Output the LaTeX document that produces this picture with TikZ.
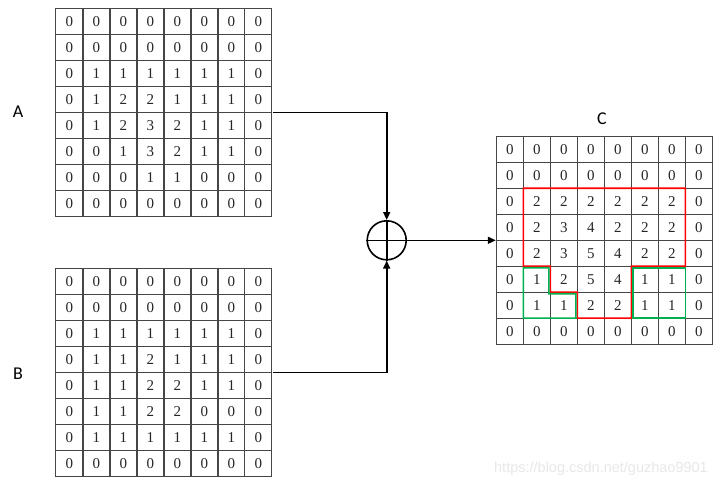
\documentclass[tikz,border=0pt]{standalone}
\usepackage{fontspec}
\setmainfont{Liberation Serif}
\newfontfamily\labelfont{Carlito}
\newfontfamily\markfont{Liberation Sans}
\usetikzlibrary{matrix,arrows.meta,positioning}
\definecolor{gridgray}{RGB}{70,70,70}
\definecolor{zonered}{RGB}{255,0,0}
\definecolor{zonegreen}{RGB}{0,176,80}
\tikzset{
  cellbox/.style={draw=gridgray,line width=1.2pt,minimum width=27pt,minimum height=25.9pt,
                  inner sep=0pt,outer sep=0pt,text=black!85,font=\fontsize{15}{15}\selectfont},
  numgrid/.style={matrix of nodes,nodes={cellbox},column sep=-1.2pt,row sep=-1.2pt,
                  inner sep=0pt,outer sep=0pt},
  namelabel/.style={font=\labelfont\fontsize{18}{18}\selectfont},
  sumnode/.style={circle,draw,line width=1.6pt,minimum size=39pt,inner sep=0pt},
  arr/.style={-{Triangle[length=8pt,width=7pt]},line width=1.6pt},
  redzone/.style={draw=zonered,line width=1.6pt},
  greenzone/.style={draw=zonegreen,line width=1.6pt}
}

\begin{document}
\begin{tikzpicture}[x=1pt,y=-1pt]
  \fill[white] (0,0) rectangle (726,488);
  \useasboundingbox (0,0) rectangle (726,488);

  % input grids
  \matrix[numgrid] (A) at (163.9,112.5) {
    0 & 0 & 0 & 0 & 0 & 0 & 0 & 0 \\
    0 & 0 & 0 & 0 & 0 & 0 & 0 & 0 \\
    0 & 1 & 1 & 1 & 1 & 1 & 1 & 0 \\
    0 & 1 & 2 & 2 & 1 & 1 & 1 & 0 \\
    0 & 1 & 2 & 3 & 2 & 1 & 1 & 0 \\
    0 & 0 & 1 & 3 & 2 & 1 & 1 & 0 \\
    0 & 0 & 0 & 1 & 1 & 0 & 0 & 0 \\
    0 & 0 & 0 & 0 & 0 & 0 & 0 & 0 \\
  };
  \matrix[numgrid] (B) at (163.9,372.5) {
    0 & 0 & 0 & 0 & 0 & 0 & 0 & 0 \\
    0 & 0 & 0 & 0 & 0 & 0 & 0 & 0 \\
    0 & 1 & 1 & 1 & 1 & 1 & 1 & 0 \\
    0 & 1 & 1 & 2 & 1 & 1 & 1 & 0 \\
    0 & 1 & 1 & 2 & 2 & 1 & 1 & 0 \\
    0 & 1 & 1 & 2 & 2 & 0 & 0 & 0 \\
    0 & 1 & 1 & 1 & 1 & 1 & 1 & 0 \\
    0 & 0 & 0 & 0 & 0 & 0 & 0 & 0 \\
  };
  % result grid
  \matrix[numgrid] (C) at (604.4,240.3) {
    0 & 0 & 0 & 0 & 0 & 0 & 0 & 0 \\
    0 & 0 & 0 & 0 & 0 & 0 & 0 & 0 \\
    0 & 2 & 2 & 2 & 2 & 2 & 2 & 0 \\
    0 & 2 & 3 & 4 & 2 & 2 & 2 & 0 \\
    0 & 2 & 3 & 5 & 4 & 2 & 2 & 0 \\
    0 & 1 & 2 & 5 & 4 & 1 & 1 & 0 \\
    0 & 1 & 1 & 2 & 2 & 1 & 1 & 0 \\
    0 & 0 & 0 & 0 & 0 & 0 & 0 & 0 \\
  };

  \node[namelabel] (labA) at (18,112) {A};
  \node[namelabel] (labB) at (18,374) {B};
  \node[namelabel] (labC) at (602,119) {C};

  % sum
  \node[sumnode] (sum) at (386.7,240.3) {};
  \draw[line width=1.6pt] (sum.north) -- (sum.south);
  \draw[line width=1.6pt] (sum.west) -- (sum.east);

  \draw[arr] (A.east) -| (sum.north);
  \draw[arr] (B.east) -| (sum.south);
  \draw[arr] (sum.east) -- (C.west);

  % regions in C
  \draw[redzone] (C-3-2.north west) -- (C-3-7.north east) -- (C-5-7.south east)
    -- (C-5-6.south west) -- (C-7-6.south west) -- (C-7-4.south west)
    -- (C-6-4.south west) -- (C-6-3.south west) -- (C-5-3.south west)
    -- (C-5-2.south west) -- cycle;
  \draw[greenzone] ([shift={(0,1.5)}]C-6-2.north west) -- ([shift={(-1.5,1.5)}]C-6-2.north east)
    -- ([shift={(-1.5,1.5)}]C-7-3.north west) -- ([shift={(-1.5,1.5)}]C-7-3.north east)
    -- ([shift={(-1.5,0)}]C-7-3.south east) -- (C-7-2.south west) -- cycle;
  \draw[greenzone] ([shift={(1.5,1.5)}]C-6-6.north west) -- ([shift={(0,1.5)}]C-6-7.north east)
    -- (C-7-7.south east) -- ([shift={(1.5,0)}]C-7-6.south west) -- cycle;

  \node[font=\markfont\fontsize{14.5}{14.5}\selectfont,text=black!9] (mark) at (601,469)
    {https://blog.csdn.net/guzhao9901};
\end{tikzpicture}
\end{document}
